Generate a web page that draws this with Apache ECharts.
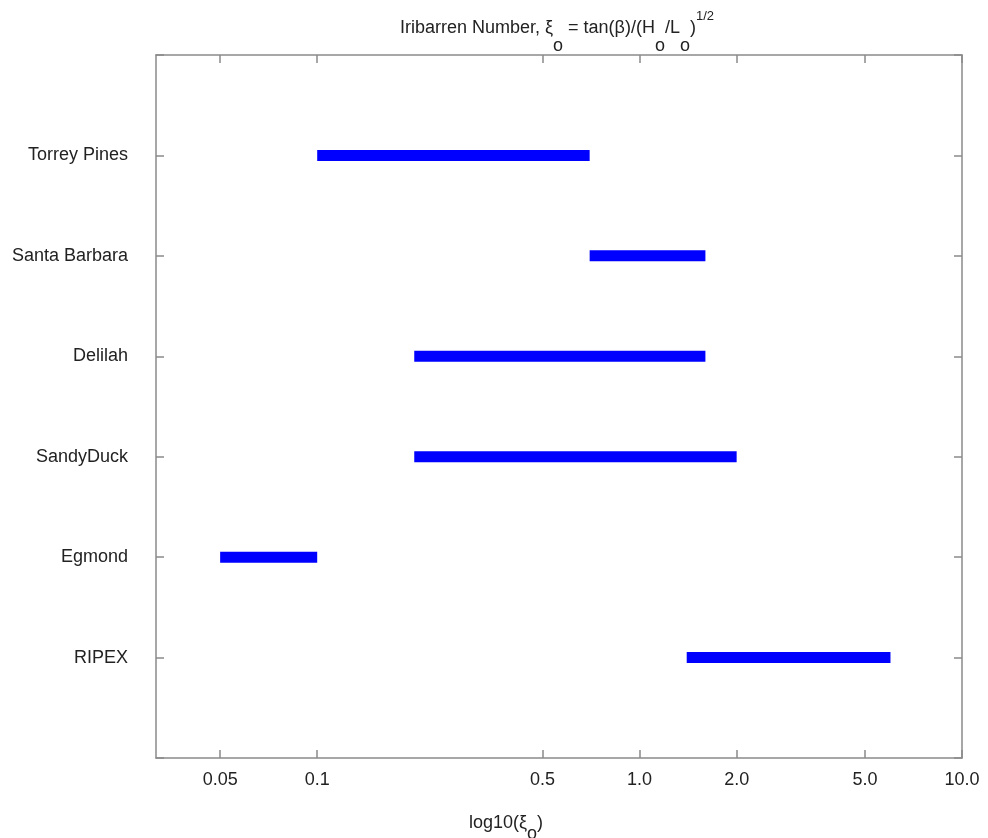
<!DOCTYPE html>
<html><head><meta charset="utf-8">
<script src="https://cdn.jsdelivr.net/npm/echarts@6/dist/echarts.min.js"></script>
<style>html,body{margin:0;padding:0;background:#fff}#c{width:988px;height:838px}</style>
</head><body><div id="c"></div>
<script>
// Data
const sites = ['RIPEX', 'Egmond', 'SandyDuck', 'Delilah', 'Santa Barbara', 'Torrey Pines'];
const rangeLow  = [1.4, 0.05, 0.2, 0.2, 0.7, 0.1];
const rangeHigh = [6.0, 0.1, 2.0, 1.6, 1.6, 0.7];
const xTickValues = [0.05, 0.1, 0.5, 1.0, 2.0, 5.0, 10.0];
const xTickLabels = ['0.05', '0.1', '0.5', '1.0', '2.0', '5.0', '10.0'];
const xMinValue = 0.0316227766;
const xMaxValue = 10;

const FONT = '"Liberation Sans", Arial, Helvetica, sans-serif';
const FS = 18;
const TEXT = '#222';
const FRAME = '#8a8a8a';
const lg = Math.log10;

const tickPos = xTickValues.map(lg);
function xLabel(v) {
  for (let i = 0; i < tickPos.length; i++) if (Math.abs(tickPos[i] - v) < 1e-6) return xTickLabels[i];
  return '';
}

const chart = echarts.init(document.getElementById('c'), null, {renderer: 'canvas'});

const series = sites.map((name, i) => ({
  name: name,
  type: 'line',
  xAxisIndex: 0, yAxisIndex: 0,
  symbol: 'none',
  silent: true,
  animation: false,
  lineStyle: {width: 11, color: '#0000ff', cap: 'butt'},
  data: [[lg(rangeLow[i]), i + 1], [lg(rangeHigh[i]), i + 1]]
}));

const axisLineStyle = {show: true, onZero: false, lineStyle: {color: FRAME, width: 1.5}};
const baseX = {
  type: 'value',
  min: lg(xMinValue), max: lg(xMaxValue),
  axisLine: axisLineStyle,
  splitLine: {show: false},
  axisTick: {show: true, inside: true, length: 8, customValues: tickPos, lineStyle: {color: FRAME, width: 1.5}}
};
const baseY = {
  type: 'value', min: 0, max: 7, interval: 1,
  axisLine: axisLineStyle,
  splitLine: {show: false},
  axisTick: {show: true, inside: true, length: 8, lineStyle: {color: FRAME, width: 1.5}}
};

chart.setOption({
  backgroundColor: '#fff',
  animation: false,
  grid: {left: 156, right: 26, top: 55, bottom: 80, containLabel: false, outerBoundsMode: 'none'},
  xAxis: [
    Object.assign({}, baseX, {
      position: 'bottom',
      axisLabel: {show: true, customValues: tickPos, formatter: xLabel, margin: 13,
        fontFamily: FONT, fontSize: FS, color: TEXT}
    }),
    Object.assign({}, baseX, {position: 'top', axisLabel: {show: false}})
  ],
  yAxis: [
    Object.assign({}, baseY, {
      position: 'left',
      axisLabel: {show: true, margin: 28, fontFamily: FONT, fontSize: FS, color: TEXT,
        formatter: v => sites[v - 1] || ''}
    }),
    Object.assign({}, baseY, {position: 'right', axisLabel: {show: false}})
  ],
  series: series,
  graphic: [
    {
      type: 'text', x: 557, y: 0, silent: true,
      style: {
        text: '{m|Iribarren Number, ξ}{s|o}{m| = tan(β)/(H}{s|o}{m|/L}{s|o}{m|)}{p|1/2}',
        align: 'center', verticalAlign: 'top',
        rich: {
          m: {fontFamily: FONT, fontSize: FS, height: 18, padding: [19, 0, 0, 0], fill: TEXT, verticalAlign: 'top'},
          s: {fontFamily: FONT, fontSize: FS, height: 18, padding: [37, 0, 0, 0], fill: TEXT, verticalAlign: 'top'},
          p: {fontFamily: FONT, fontSize: 13, height: 13, padding: [10, 0, 0, 0], fill: TEXT, verticalAlign: 'top'}
        }
      }
    },
    {
      type: 'text', x: 506, y: 800, silent: true,
      style: {
        text: '{m|log10(ξ}{s|o}{m|)}',
        align: 'center', verticalAlign: 'top',
        rich: {
          m: {fontFamily: FONT, fontSize: FS, height: 18, padding: [14, 0, 0, 0], fill: TEXT, verticalAlign: 'top'},
          s: {fontFamily: FONT, fontSize: FS, height: 18, padding: [25, 0, 0, 0], fill: TEXT, verticalAlign: 'top'}
        }
      }
    }
  ]
});
</script>
</body></html>
